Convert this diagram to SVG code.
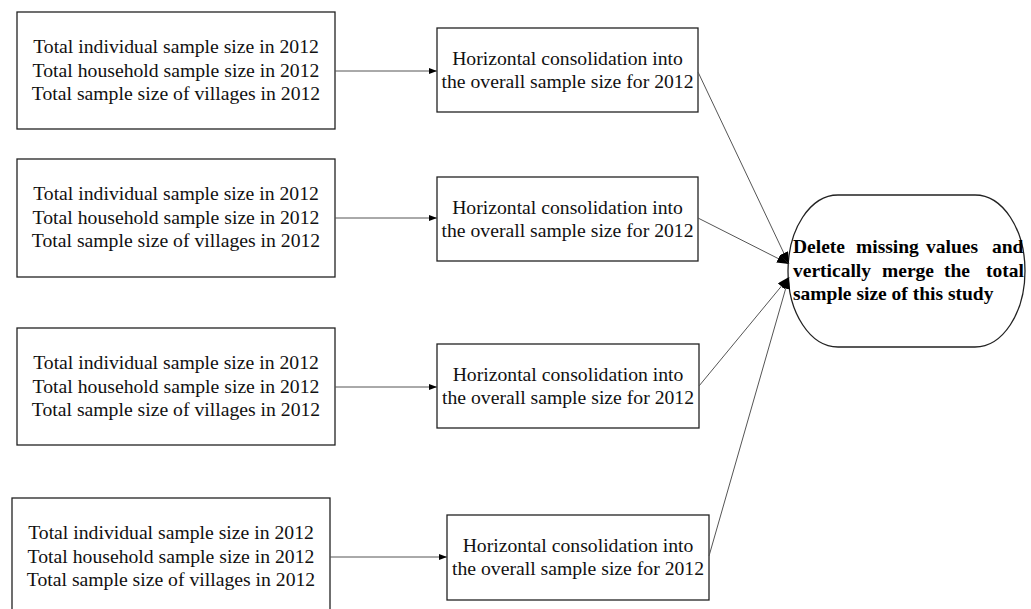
<svg xmlns="http://www.w3.org/2000/svg" width="1031" height="609" viewBox="0 0 1031 609">
<style>
.box{fill:#fff;stroke:#222;stroke-width:1.3}
.t{font-family:"Liberation Serif","Times New Roman",serif;font-size:19.7px;fill:#111;text-anchor:middle}
.b{font-family:"Liberation Serif","Times New Roman",serif;font-size:19.5px;font-weight:bold;fill:#000}
.c{fill:none;stroke:#555;stroke-width:1}
</style>
<defs>
<marker id="aS" markerUnits="userSpaceOnUse" markerWidth="8" markerHeight="6" refX="8" refY="3" orient="auto"><path d="M0,0 L8,3 L0,6 z" fill="#000"/></marker>
<marker id="aL" markerUnits="userSpaceOnUse" markerWidth="12" markerHeight="9" refX="12" refY="4.5" orient="auto"><path d="M0,0 L12,4.5 L0,9 z" fill="#000"/></marker>
</defs>
<rect width="1031" height="609" fill="#fff"/>

<g id="src1">
<rect class="box" x="17" y="12" width="318" height="117"/>
<text class="t" x="176" y="53">Total individual sample size in 2012</text>
<text class="t" x="176" y="76.5">Total household sample size in 2012</text>
<text class="t" x="176" y="100">Total sample size of villages in 2012</text>
</g>
<g id="src2">
<rect class="box" x="17" y="159" width="318" height="118"/>
<text class="t" x="176" y="200">Total individual sample size in 2012</text>
<text class="t" x="176" y="223.5">Total household sample size in 2012</text>
<text class="t" x="176" y="247">Total sample size of villages in 2012</text>
</g>
<g id="src3">
<rect class="box" x="17" y="328" width="318" height="117"/>
<text class="t" x="176" y="369">Total individual sample size in 2012</text>
<text class="t" x="176" y="392.5">Total household sample size in 2012</text>
<text class="t" x="176" y="416">Total sample size of villages in 2012</text>
</g>
<g id="src4">
<rect class="box" x="12" y="498" width="318" height="118"/>
<text class="t" x="171" y="539">Total individual sample size in 2012</text>
<text class="t" x="171" y="562.5">Total household sample size in 2012</text>
<text class="t" x="171" y="586">Total sample size of villages in 2012</text>
</g>

<g id="con1">
<rect class="box" x="437" y="28" width="261" height="84"/>
<text class="t" x="567.5" y="64.5">Horizontal consolidation into</text>
<text class="t" x="567.5" y="88">the overall sample size for 2012</text>
</g>
<g id="con2">
<rect class="box" x="437" y="177" width="261" height="84"/>
<text class="t" x="567.5" y="213.5">Horizontal consolidation into</text>
<text class="t" x="567.5" y="237">the overall sample size for 2012</text>
</g>
<g id="con3">
<rect class="box" x="437" y="344" width="262" height="84"/>
<text class="t" x="568" y="380.5">Horizontal consolidation into</text>
<text class="t" x="568" y="404">the overall sample size for 2012</text>
</g>
<g id="con4">
<rect class="box" x="447" y="515" width="262" height="85"/>
<text class="t" x="578" y="551.5">Horizontal consolidation into</text>
<text class="t" x="578" y="575">the overall sample size for 2012</text>
</g>

<g id="final">
<rect class="box" x="788" y="195" width="237" height="152" rx="50" ry="76"/>
<text class="b" y="253"><tspan x="793">Delete</tspan><tspan x="856">missing</tspan><tspan x="926">values</tspan><tspan x="992">and</tspan></text>
<text class="b" y="276.5"><tspan x="793">vertically</tspan><tspan x="882">merge</tspan><tspan x="944">the</tspan><tspan x="986">total</tspan></text>
<text class="b" x="793" y="300">sample size of this study</text>
</g>

<g id="connectors">
<line class="c" x1="335" y1="71" x2="437" y2="71" marker-end="url(#aS)"/>
<line class="c" x1="335" y1="218" x2="437" y2="218" marker-end="url(#aS)"/>
<line class="c" x1="335" y1="387" x2="437" y2="387" marker-end="url(#aS)"/>
<line class="c" x1="330" y1="557" x2="447" y2="557" marker-end="url(#aS)"/>
<line class="c" x1="698" y1="72" x2="789" y2="264" marker-end="url(#aL)"/>
<line class="c" x1="698" y1="218" x2="789" y2="264" marker-end="url(#aL)"/>
<line class="c" x1="699" y1="386" x2="789" y2="277" marker-end="url(#aL)"/>
<line class="c" x1="709" y1="556" x2="789" y2="277" marker-end="url(#aL)"/>
</g>
</svg>
